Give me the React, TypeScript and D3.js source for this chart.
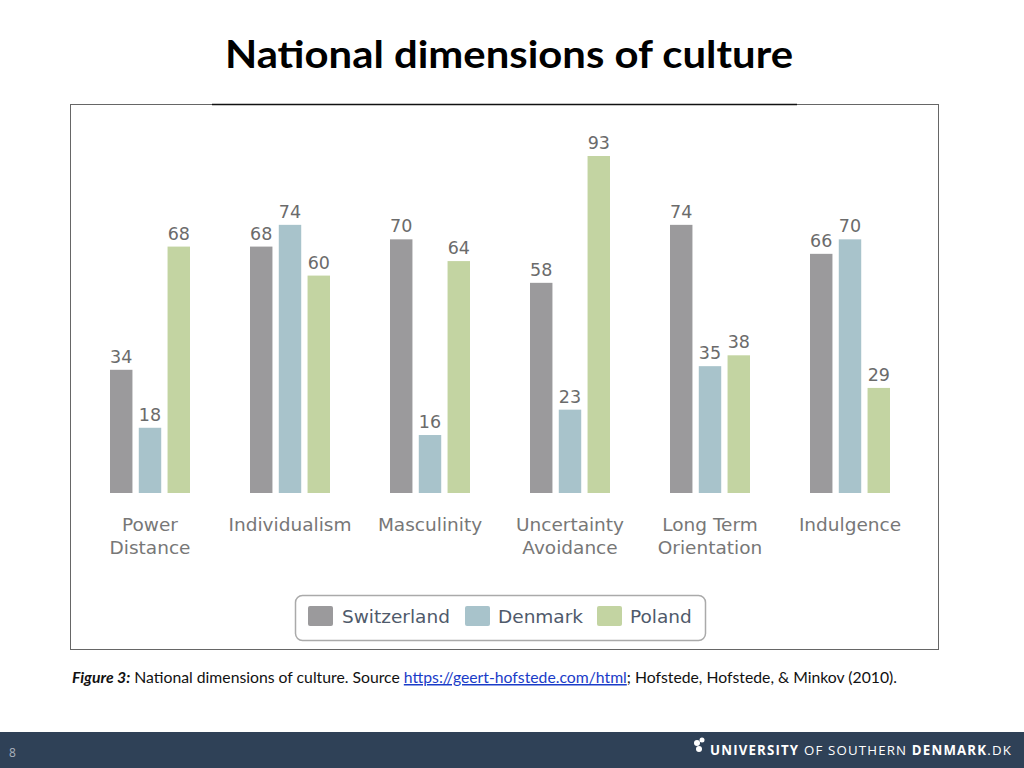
import React from "react";
import * as d3 from "d3";

const categories = [
  ["Power", "Distance"],
  ["Individualism"],
  ["Masculinity"],
  ["Uncertainty", "Avoidance"],
  ["Long Term", "Orientation"],
  ["Indulgence"],
];
const seriesNames = ["Switzerland", "Denmark", "Poland"];
const switzerland = [34, 68, 70, 58, 74, 66];
const denmark = [18, 74, 16, 23, 35, 70];
const poland = [68, 60, 64, 93, 38, 29];
const colors = ["#9b9a9c", "#a8c3cb", "#c3d4a2"];

export default function App() {
  const series = [switzerland, denmark, poland];
  const x0 = d3
    .scaleBand<number>()
    .domain(d3.range(categories.length))
    .range([80, 920])
    .paddingInner(0)
    .paddingOuter(0);
  const x1 = d3
    .scaleBand<number>()
    .domain([0, 1, 2])
    .range([30, 110])
    .paddingInner(0.22)
    .paddingOuter(0);
  const y = d3.scaleLinear().domain([0, 93]).range([493, 156]);

  return (
    <svg
      width={1024}
      height={768}
      style={{ position: "absolute", left: 0, top: 0, background: "#fff" }}
    >
      <text
        x={225}
        y={68}
        textLength={568}
        lengthAdjust="spacingAndGlyphs"
        fontFamily="Lato, 'Open Sans', sans-serif"
        fontWeight="bold"
        fontSize={38}
        fill="#000"
      >
        National dimensions of culture
      </text>

      <rect x={70.5} y={104.5} width={868} height={545} fill="#fff" stroke="#666" strokeWidth={1} />
      <line x1={212} x2={797} y1={104.5} y2={104.5} stroke="#111" strokeWidth={1.5} />

      {categories.map((cat, ci) => (
        <g key={ci}>
          {series.map((s, si) => {
            const bx = (x0(ci) as number) + (x1(si) as number);
            const bw = x1.bandwidth();
            return (
              <g key={si}>
                <rect x={bx} y={y(s[ci])} width={bw} height={y(0) - y(s[ci])} fill={colors[si]} />
                <text
                  x={bx + bw / 2}
                  y={y(s[ci]) - 7}
                  textAnchor="middle"
                  fontFamily="'DejaVu Sans', sans-serif"
                  fontSize={17.5}
                  fill="#6b6b6b"
                >
                  {s[ci]}
                </text>
              </g>
            );
          })}
          {cat.map((line, li) => (
            <text
              key={li}
              x={(x0(ci) as number) + 70}
              y={531 + li * 23}
              textAnchor="middle"
              fontFamily="'DejaVu Sans', sans-serif"
              fontSize={18.5}
              fill="#777"
            >
              {line}
            </text>
          ))}
        </g>
      ))}

      <rect x={295.5} y={595.5} width={410} height={45} rx={7} fill="#fff" stroke="#aaa" strokeWidth={1.5} />
      {[
        { sx: 308, tx: 342 },
        { sx: 465, tx: 498 },
        { sx: 597, tx: 630 },
      ].map((p, i) => (
        <g key={i}>
          <rect x={p.sx} y={606} width={25} height={20} rx={2} fill={colors[i]} />
          <text
            x={p.tx}
            y={623}
            fontFamily="'DejaVu Sans', sans-serif"
            fontSize={18.5}
            fill="#4f5a6b"
          >
            {seriesNames[i]}
          </text>
        </g>
      ))}

      <text
        x={72}
        y={683}
        textLength={825}
        lengthAdjust="spacingAndGlyphs"
        fontFamily="Lato, 'Open Sans', sans-serif"
        fontSize={15}
        fill="#111"
      >
        <tspan fontWeight="bold" fontStyle="italic">Figure 3:</tspan>
        <tspan> National dimensions of culture. Source </tspan>
        <tspan fill="#1a3cc8" textDecoration="underline">https://geert-hofstede.com/html</tspan>
        <tspan>; Hofstede, Hofstede, &amp; Minkov (2010).</tspan>
      </text>

      <rect x={0} y={732} width={1024} height={36} fill="#2f4157" />
      <text x={9} y={757} fontFamily="'Open Sans', sans-serif" fontSize={12} fill="#aab2bd">
        8
      </text>
      <g fill="#fff">
        <circle cx={697} cy={743} r={3} />
        <circle cx={702} cy={740} r={2.5} />
        <circle cx={699} cy={749} r={3} />
      </g>
      <text
        x={710}
        y={755}
        textLength={302}
        lengthAdjust="spacingAndGlyphs"
        fontFamily="'Open Sans', sans-serif"
        fontSize={13.5}
        fill="#fff"
        letterSpacing={1.2}
      >
        <tspan fontWeight="bold">UNIVERSITY</tspan>
        <tspan> OF SOUTHERN </tspan>
        <tspan fontWeight="bold">DENMARK</tspan>
        <tspan>.DK</tspan>
      </text>
    </svg>
  );
}
